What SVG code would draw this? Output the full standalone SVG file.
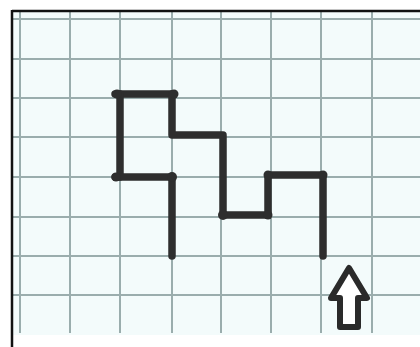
<svg xmlns="http://www.w3.org/2000/svg" width="420" height="347" viewBox="0 0 420 347">
<style>
.g{stroke:#9aadad;stroke-width:2;fill:none}
.p{stroke:#2e2e2e;stroke-width:7.5;fill:none;stroke-linejoin:round;stroke-linecap:round}
.j{fill:#2e2e2e}
</style>
<rect x="0" y="0" width="420" height="347" fill="#ffffff"/>
<rect x="12" y="11" width="408" height="324" fill="#f3fbfb"/>
<g id="grid">
<line class="g" x1="20" y1="11" x2="20" y2="333"/>
<line class="g" x1="70" y1="11" x2="70" y2="333"/>
<line class="g" x1="120" y1="11" x2="120" y2="333"/>
<line class="g" x1="172" y1="11" x2="172" y2="333"/>
<line class="g" x1="221" y1="11" x2="221" y2="333"/>
<line class="g" x1="271" y1="11" x2="271" y2="333"/>
<line class="g" x1="321" y1="11" x2="321" y2="333"/>
<line class="g" x1="372" y1="11" x2="372" y2="333"/>
<line class="g" x1="12" y1="19" x2="420" y2="19"/>
<line class="g" x1="12" y1="59" x2="420" y2="59"/>
<line class="g" x1="12" y1="98" x2="420" y2="98"/>
<line class="g" x1="12" y1="137" x2="420" y2="137"/>
<line class="g" x1="12" y1="177" x2="420" y2="177"/>
<line class="g" x1="12" y1="217" x2="420" y2="217"/>
<line class="g" x1="12" y1="256" x2="420" y2="256"/>
<line class="g" x1="12" y1="295" x2="420" y2="295"/>
</g>
<g id="frame">
<line x1="12" y1="11" x2="420" y2="11" stroke="#111" stroke-width="2.5"/>
<line x1="12" y1="10" x2="12" y2="347" stroke="#111" stroke-width="2.5"/>
</g>
<g id="path">
<polyline class="p" points="115,94 172,94"/>
<polyline class="p" points="120,94 120,177"/>
<polyline class="p" points="115,177 172,177 172,256"/>
<polyline class="p" points="172,94 172,135 223,135 223,215 268,215 268,175 323,175 323,256"/>
<circle class="j" cx="117" cy="94" r="4.5"/>
<circle class="j" cx="174" cy="94" r="4.5"/>
<circle class="j" cx="116" cy="177" r="4.5"/>
<circle class="j" cx="172" cy="177" r="5"/>
<circle class="j" cx="223" cy="215" r="5"/>
<circle class="j" cx="268" cy="215" r="4.5"/>
<circle class="j" cx="268" cy="175" r="4.5"/>
<circle class="j" cx="323" cy="175" r="4.5"/>
</g>
<g id="arrow">
<polygon points="349,268 367,298 358,298 358,327 340,327 340,298 331,298" fill="#ffffff" stroke="#2a2a2a" stroke-width="6" stroke-linejoin="round"/>
</g>
</svg>
